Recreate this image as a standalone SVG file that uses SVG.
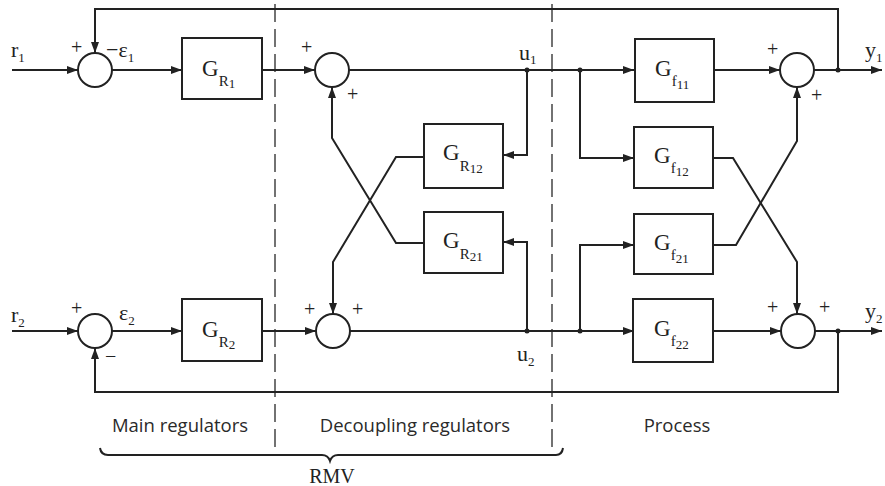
<svg xmlns="http://www.w3.org/2000/svg" width="885" height="486" viewBox="0 0 885 486">
<style>
.b{fill:#fff;stroke:#222;stroke-width:2}
.c{fill:none;stroke:#222;stroke-width:2}
.d{fill:none;stroke:#444;stroke-width:1.5;stroke-dasharray:18 7}
.m{font-family:"Liberation Serif","Times New Roman",serif;fill:#222}
.G{font-size:23px}
.s1{font-size:15px}
.s2{font-size:13px}
.v{font-size:22px}
.p{font-size:20px}
.l{font-family:"Open Sans","Liberation Sans",sans-serif;font-size:18.5px;fill:#2a2a2a}
.dot{fill:#222}
</style>
<defs>
<marker id="a" markerUnits="userSpaceOnUse" markerWidth="11" markerHeight="8" refX="11" refY="4" orient="auto">
<path d="M0,0 L11,4 L0,8 z" fill="#222"/>
</marker>
</defs>

<g id="regions">
<line class="d" x1="275" y1="4" x2="275" y2="448"/>
<line class="d" x1="552" y1="4" x2="552" y2="448"/>
<path class="c" stroke-width="1.5" d="M100,448 Q101,455 108,455 L322,455 Q328,455 330,461 Q332,455 338,455 L556,455 Q562,455 563,448"/>
<text class="l" x="180" y="432" text-anchor="middle">Main regulators</text>
<text class="l" x="415" y="432" text-anchor="middle">Decoupling regulators</text>
<text class="l" x="677" y="432" text-anchor="middle">Process</text>
<text class="m" x="332" y="483" font-size="20" text-anchor="middle">RMV</text>
</g>

<g id="connectors">
<line class="c" x1="12" y1="70" x2="78" y2="70" marker-end="url(#a)"/>
<line class="c" x1="112" y1="70" x2="182" y2="70" marker-end="url(#a)"/>
<line class="c" x1="262" y1="70" x2="315" y2="70" marker-end="url(#a)"/>
<line class="c" x1="349" y1="70" x2="634" y2="70" marker-end="url(#a)"/>
<line class="c" x1="714" y1="70" x2="780" y2="70" marker-end="url(#a)"/>
<line class="c" x1="814" y1="70" x2="882" y2="70" marker-end="url(#a)"/>
<polyline class="c" points="838,70 838,9 95,9 95,53" marker-end="url(#a)"/>

<line class="c" x1="12" y1="331" x2="78" y2="331" marker-end="url(#a)"/>
<line class="c" x1="112" y1="331" x2="182" y2="331" marker-end="url(#a)"/>
<line class="c" x1="262" y1="331" x2="316" y2="331" marker-end="url(#a)"/>
<line class="c" x1="350" y1="331" x2="634" y2="331" marker-end="url(#a)"/>
<line class="c" x1="713" y1="331" x2="781" y2="331" marker-end="url(#a)"/>
<line class="c" x1="815" y1="331" x2="882" y2="331" marker-end="url(#a)"/>
<polyline class="c" points="838,331 838,392 95,392 95,348" marker-end="url(#a)"/>

<polyline class="c" points="527,70 527,155 503,155" marker-end="url(#a)"/>
<polyline class="c" points="527,331 527,242 503,242" marker-end="url(#a)"/>
<polyline class="c" points="424,157 396,157 333,262 333,314" marker-end="url(#a)"/>
<polyline class="c" points="424,243 396,243 332,138 332,87" marker-end="url(#a)"/>

<polyline class="c" points="580,70 580,158 634,158" marker-end="url(#a)"/>
<polyline class="c" points="580,331 580,245 634,245" marker-end="url(#a)"/>
<polyline class="c" points="713,158 733,158 797,262 797,314" marker-end="url(#a)"/>
<polyline class="c" points="713,245 736,245 797,141 797,87" marker-end="url(#a)"/>

<circle class="dot" cx="527" cy="70" r="2.5"/>
<circle class="dot" cx="580" cy="70" r="2.5"/>
<circle class="dot" cx="838" cy="70" r="2.5"/>
<circle class="dot" cx="527" cy="331" r="2.5"/>
<circle class="dot" cx="580" cy="331" r="2.5"/>
<circle class="dot" cx="838" cy="331" r="2.5"/>
</g>

<g id="sum1"><circle class="b" cx="95" cy="70" r="17"/></g>
<g id="sum2"><circle class="b" cx="332" cy="70" r="17"/></g>
<g id="sum3"><circle class="b" cx="333" cy="331" r="17"/></g>
<g id="sum4"><circle class="b" cx="95" cy="331" r="17"/></g>
<g id="sum5"><circle class="b" cx="797" cy="70" r="17"/></g>
<g id="sum6"><circle class="b" cx="798" cy="331" r="17"/></g>

<g id="GR1"><rect class="b" x="182" y="38" width="80" height="61"/>
<text class="m G" x="202" y="76">G<tspan class="s1" dy="10">R</tspan><tspan class="s2" dy="2">1</tspan></text></g>
<g id="GR2"><rect class="b" x="182" y="299" width="80" height="62"/>
<text class="m G" x="202" y="337">G<tspan class="s1" dy="10">R</tspan><tspan class="s2" dy="2">2</tspan></text></g>
<g id="GR12"><rect class="b" x="424" y="124" width="79" height="64"/>
<text class="m G" x="443" y="160">G<tspan class="s1" dy="11">R</tspan><tspan class="s2" dy="2">12</tspan></text></g>
<g id="GR21"><rect class="b" x="424" y="212" width="79" height="61"/>
<text class="m G" x="443" y="248">G<tspan class="s1" dy="11">R</tspan><tspan class="s2" dy="2">21</tspan></text></g>
<g id="Gf11"><rect class="b" x="635" y="39" width="79" height="63"/>
<text class="m G" x="655" y="76">G<tspan class="s1" dy="10">f</tspan><tspan class="s2" dy="3">11</tspan></text></g>
<g id="Gf12"><rect class="b" x="634" y="127" width="79" height="61"/>
<text class="m G" x="654" y="163">G<tspan class="s1" dy="10">f</tspan><tspan class="s2" dy="3">12</tspan></text></g>
<g id="Gf21"><rect class="b" x="634" y="214" width="79" height="60"/>
<text class="m G" x="654" y="250">G<tspan class="s1" dy="10">f</tspan><tspan class="s2" dy="3">21</tspan></text></g>
<g id="Gf22"><rect class="b" x="633" y="299" width="80" height="63"/>
<text class="m G" x="654" y="336">G<tspan class="s1" dy="10">f</tspan><tspan class="s2" dy="3">22</tspan></text></g>

<g id="labels" class="m">
<text class="v" x="11" y="57">r<tspan class="s2" dy="5">1</tspan></text>
<text class="v" x="11" y="322">r<tspan class="s2" dy="5">2</tspan></text>
<text class="p" x="71" y="54">+</text>
<text class="v" x="106" y="57">−ε<tspan class="s2" dy="5">1</tspan></text>
<text class="p" x="71" y="315">+</text>
<text class="v" x="119" y="320">ε<tspan class="s2" dy="5">2</tspan></text>
<text class="p" x="105" y="363">−</text>
<text class="p" x="301" y="54">+</text>
<text class="p" x="347" y="101">+</text>
<text class="v" x="519" y="60">u<tspan class="s2" dy="4">1</tspan></text>
<text class="v" x="517" y="361">u<tspan class="s2" dy="5">2</tspan></text>
<text class="p" x="304" y="316">+</text>
<text class="p" x="352" y="316">+</text>
<text class="p" x="767" y="56">+</text>
<text class="p" x="811" y="102">+</text>
<text class="p" x="767" y="314">+</text>
<text class="p" x="819" y="314">+</text>
<text class="v" x="865" y="57">y<tspan class="s2" dy="5">1</tspan></text>
<text class="v" x="865" y="318">y<tspan class="s2" dy="5">2</tspan></text>
</g>
</svg>
